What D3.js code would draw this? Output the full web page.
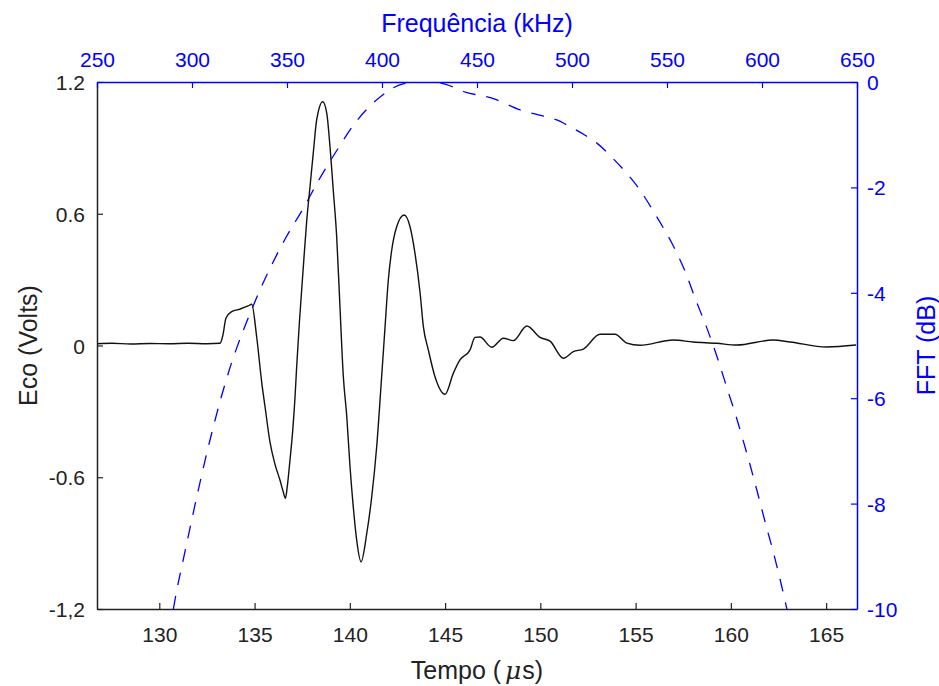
<!DOCTYPE html>
<html>
<head>
<meta charset="utf-8">
<script src="https://cdn.jsdelivr.net/npm/d3@7"></script>
<style>
  html, body { margin: 0; padding: 0; background: #fff; }
  svg { display: block; font-family: "Liberation Sans", Arial, Helvetica, sans-serif; }
</style>
</head>
<body>
<svg id="chart" width="939" height="686"></svg>
<script>
// Echo signal: time (µs) and amplitude (V)
const echoTime = [126.73, 127.5, 128.5, 129.5, 130.5, 131.5, 132.5, 133.19, 133.34, 133.5,
  133.80, 134.24, 134.66, 134.85, 135.11, 135.38, 135.55, 135.81, 136.07, 136.34, 136.50, 136.62,
  136.72, 136.85, 137.00, 137.12, 137.21, 137.35, 137.56, 137.74, 137.91, 138.08, 138.26, 138.58,
  138.79, 138.96, 139.13, 139.31, 139.45, 139.66, 139.84, 140.01, 140.18, 140.36,
  140.59, 140.89, 141.15, 141.41, 141.67, 141.85, 142.02, 142.20, 142.46, 142.85,
  143.16, 143.42, 143.69, 143.86, 144.12, 144.47, 145.00, 145.43, 145.78, 146.31,
  146.57, 146.83, 147.45, 148.06, 148.58, 149.29, 149.98, 150.51, 151.21, 151.73,
  152.26, 153.13, 153.92, 154.54, 155.23, 156.97, 158.02, 159.26, 160.31, 162.22,
  163.11, 165.03, 166.57];
const echoVolts = [0.008, 0.010, 0.007, 0.009, 0.008, 0.010, 0.008, 0.010, 0.048, 0.125,
  0.154, 0.166, 0.180, 0.188, 0.040, -0.171, -0.279, -0.440, -0.540, -0.615, -0.665, -0.696,
  -0.640, -0.530, -0.390, -0.240, -0.097, 0.101, 0.359, 0.571, 0.723, 0.875, 1.027, 1.110,
  1.057, 0.905, 0.708, 0.495, 0.238, -0.142, -0.324, -0.552, -0.734, -0.886,
  -0.985, -0.855, -0.689, -0.461, -0.142, 0.086, 0.298, 0.435, 0.541, 0.594,
  0.541, 0.420, 0.238, 0.086, -0.020, -0.142, -0.222, -0.127, -0.066, -0.020,
  0.037, 0.039, -0.008, 0.033, 0.022, 0.089, 0.037, 0.020, -0.058, -0.028,
  -0.016, 0.051, 0.051, 0.011, 0.001, 0.025, 0.016, 0.010, 0.002, 0.025,
  0.016, -0.007, 0.002];

// Spectrum magnitude: frequency (kHz) and level (dB)
const fftFreq = [290.2, 292.0, 294.6, 297.2, 300.7, 304.2, 308.6, 312.1, 315.7, 318.3,
  320.9, 323.6, 327.9, 332.3, 337.6, 344.6, 349.0, 359.0, 366.9, 376.2,
  385.8, 399.5, 411.6, 420.1, 430.6, 443.8, 459.0, 472.7, 484.1, 492.0,
  499.0, 506.9, 513.1, 521.8, 528.0, 535.0, 544.3, 552.6, 559.6, 565.2,
  571.0, 576.3, 582.4, 585.9, 590.3, 594.2, 598.2, 602.1, 606.1, 609.6, 613.1];
const fftDb = [-10.0, -9.64, -9.20, -8.76, -8.17, -7.60, -6.92, -6.42, -5.94, -5.62,
  -5.32, -5.04, -4.63, -4.24, -3.80, -3.28, -2.98, -2.37, -1.85, -1.30,
  -0.78, -0.27, -0.03, 0.0, -0.02, -0.19, -0.32, -0.53, -0.64, -0.72,
  -0.85, -1.01, -1.16, -1.46, -1.70, -2.01, -2.54, -3.06, -3.60, -4.14,
  -4.67, -5.21, -5.90, -6.29, -6.83, -7.33, -7.87, -8.41, -8.94, -9.45, -10.0];

// Axis ticks and labels
const timeTicks = [130, 135, 140, 145, 150, 155, 160, 165];
const freqTicks = [250, 300, 350, 400, 450, 500, 550, 600, 650];
const voltTicks = [1.2, 0.6, 0, -0.6, -1.2];
const voltLabels = ["1.2", "0.6", "0", "-0.6", "-1,2"];
const dbTicks = [0, -2, -4, -6, -8, -10];
const dbLabels = ["0", "-2", "-4", "-6", "-8", "-10"];

const BLUE = "#0000ff";
const margin = { left: 97, right: 857, top: 82, bottom: 609 };

const svg = d3.select("#chart");

const x = d3.scaleLinear().domain([126.73, 166.62]).range([margin.left, margin.right]);
const xf = d3.scaleLinear().domain([250, 650]).range([margin.left, margin.right]);
const yL = d3.scaleLinear().domain([-1.2, 1.2]).range([margin.bottom, margin.top]);
const yR = d3.scaleLinear().domain([-10, 0]).range([margin.bottom, margin.top]);

svg.append("defs").append("clipPath").attr("id", "plotClip")
  .append("rect")
  .attr("x", margin.left).attr("y", margin.top)
  .attr("width", margin.right - margin.left).attr("height", margin.bottom - margin.top);

const plot = svg.append("g").attr("clip-path", "url(#plotClip)");

// Spectrum (dashed, right/top axes)
const fftPts = fftFreq.map((f, i) => [f, fftDb[i]]);
plot.append("path")
  .datum(fftPts)
  .attr("fill", "none")
  .attr("stroke", BLUE)
  .attr("stroke-width", 1.3)
  .attr("stroke-dasharray", "13,11")
  .attr("d", d3.line().x(d => xf(d[0])).y(d => yR(d[1])).curve(d3.curveMonotoneX));

// Echo signal (solid, left/bottom axes)
const echoPts = echoTime.map((t, i) => [t, echoVolts[i]]);
plot.append("path")
  .datum(echoPts)
  .attr("fill", "none")
  .attr("stroke", "#111")
  .attr("stroke-width", 1.4)
  .attr("d", d3.line().x(d => x(d[0])).y(d => yL(d[1])).curve(d3.curveMonotoneX));

const tickFont = 21;

function styleAxis(g, color) {
  g.select(".domain").attr("stroke", color).attr("stroke-width", 1.5);
  g.selectAll(".tick line").attr("stroke", color).attr("stroke-width", 1.2);
  g.selectAll(".tick text").attr("fill", color)
    .attr("font-size", tickFont)
    .attr("font-family", "Liberation Sans, Arial, sans-serif");
}

// Bottom axis: time
const gBottom = svg.append("g")
  .attr("transform", `translate(0,${margin.bottom})`)
  .call(d3.axisBottom(x).tickValues(timeTicks).tickFormat(d3.format("d"))
    .tickSizeInner(-6).tickSizeOuter(0).tickPadding(18));
styleAxis(gBottom, "#222");

// Left axis: volts
const gLeft = svg.append("g")
  .attr("transform", `translate(${margin.left},0)`)
  .call(d3.axisLeft(yL).tickValues(voltTicks)
    .tickFormat((d, i) => voltLabels[i])
    .tickSizeInner(-6).tickSizeOuter(0).tickPadding(12));
styleAxis(gLeft, "#222");
gLeft.selectAll(".tick text").attr("dy", "0.36em");

// Top axis: frequency
const gTop = svg.append("g")
  .attr("transform", `translate(0,${margin.top})`)
  .call(d3.axisTop(xf).tickValues(freqTicks).tickFormat(d3.format("d"))
    .tickSizeInner(-6).tickSizeOuter(0).tickPadding(15));
styleAxis(gTop, BLUE);

// Right axis: dB
const gRight = svg.append("g")
  .attr("transform", `translate(${margin.right},0)`)
  .call(d3.axisRight(yR).tickValues(dbTicks)
    .tickFormat((d, i) => dbLabels[i])
    .tickSizeInner(-6).tickSizeOuter(0).tickPadding(10));
styleAxis(gRight, BLUE);
gRight.selectAll(".tick text").attr("dy", "0.36em");

// Axis titles
const titleFont = 25;
svg.append("text")
  .attr("x", (margin.left + margin.right) / 2).attr("y", 32)
  .attr("text-anchor", "middle").attr("fill", BLUE)
  .attr("font-size", titleFont)
  .text("Frequência (kHz)");

const tTitle = svg.append("text")
  .attr("x", (margin.left + margin.right) / 2).attr("y", 679)
  .attr("text-anchor", "middle").attr("fill", "#222")
  .attr("font-size", titleFont);
tTitle.append("tspan").text("Tempo (");
tTitle.append("tspan").attr("dx", 4).attr("font-style", "italic")
  .attr("font-family", "DejaVu Serif, serif").text("μ");
tTitle.append("tspan").attr("dx", 1).text("s)");

svg.append("text")
  .attr("transform", `translate(37,${(margin.top + margin.bottom) / 2}) rotate(-90)`)
  .attr("text-anchor", "middle").attr("fill", "#222")
  .attr("font-size", titleFont)
  .text("Eco (Volts)");

svg.append("text")
  .attr("transform", `translate(935,${(margin.top + margin.bottom) / 2}) rotate(-90)`)
  .attr("text-anchor", "middle").attr("fill", BLUE)
  .attr("font-size", titleFont)
  .text("FFT (dB)");
</script>
</body>
</html>
